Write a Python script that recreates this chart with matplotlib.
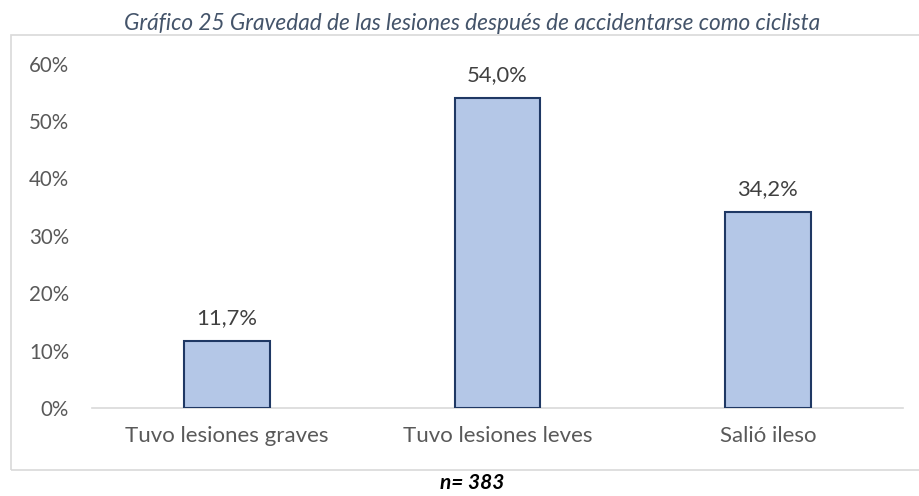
import matplotlib
matplotlib.use("Agg")
import matplotlib.pyplot as plt
from matplotlib.patches import Rectangle
from matplotlib.ticker import FuncFormatter

categories = ["Tuvo lesiones graves", "Tuvo lesiones leves", "Salió ileso"]
values = [0.117, 0.540, 0.342]
labels = ["11,7%", "54,0%", "34,2%"]
yticks = [0, 0.1, 0.2, 0.3, 0.4, 0.5, 0.6]
title = "Gráfico 25 Gravedad de las lesiones después de accidentarse como ciclista"
note = "n= 383"

plt.rcParams['font.family'] = ['Lato', 'DejaVu Sans']

fig = plt.figure(figsize=(9.19, 4.96), dpi=100)
W, H = 919, 496

# outer frame
fig.patches.append(Rectangle((11 / W, 1 - 470 / H), (930 - 11) / W, (470 - 35) / H,
                             transform=fig.transFigure, fill=False,
                             edgecolor="#D9D9D9", linewidth=1.2, zorder=0))

ax = fig.add_axes([92 / W, 1 - 408 / H, (903 - 92) / W, (408 - 63.6) / H])
x = range(len(categories))
bars = ax.bar(x, values, width=0.318, color="#B4C7E7", edgecolor="#1F3864", linewidth=1.5, zorder=3)
ax.set_xlim(-0.5, 2.5)
ax.set_ylim(0, 0.6)
ax.set_yticks(yticks)
ax.yaxis.set_major_formatter(FuncFormatter(lambda v, p: f"{v*100:.0f}%"))
ax.set_xticks(list(x))
ax.set_xticklabels(categories)
for s in ["top", "right", "left"]:
    ax.spines[s].set_visible(False)
ax.spines["bottom"].set_color("#D9D9D9")
ax.spines["bottom"].set_linewidth(1.2)
ax.tick_params(axis="y", length=0, colors="#595959", labelsize=14.8, pad=16.5)
ax.tick_params(axis="x", length=0, colors="#595959", labelsize=16, pad=13)

for xi, v, lab in zip(x, values, labels):
    ax.annotate(lab, (xi, v), xytext=(0, 9), textcoords="offset points",
                ha="center", va="bottom", fontsize=15.8, color="#404040")

fig.text(472 / W, 1 - 24 / H, title, ha="center", va="center", fontsize=16.3,
         style="italic", color="#44546A")
fig.text(472 / W, 1 - 483 / H, note, ha="center", va="center", fontsize=15,
         style="italic", weight="bold", color="black")

fig.savefig("out.png", dpi=100)
